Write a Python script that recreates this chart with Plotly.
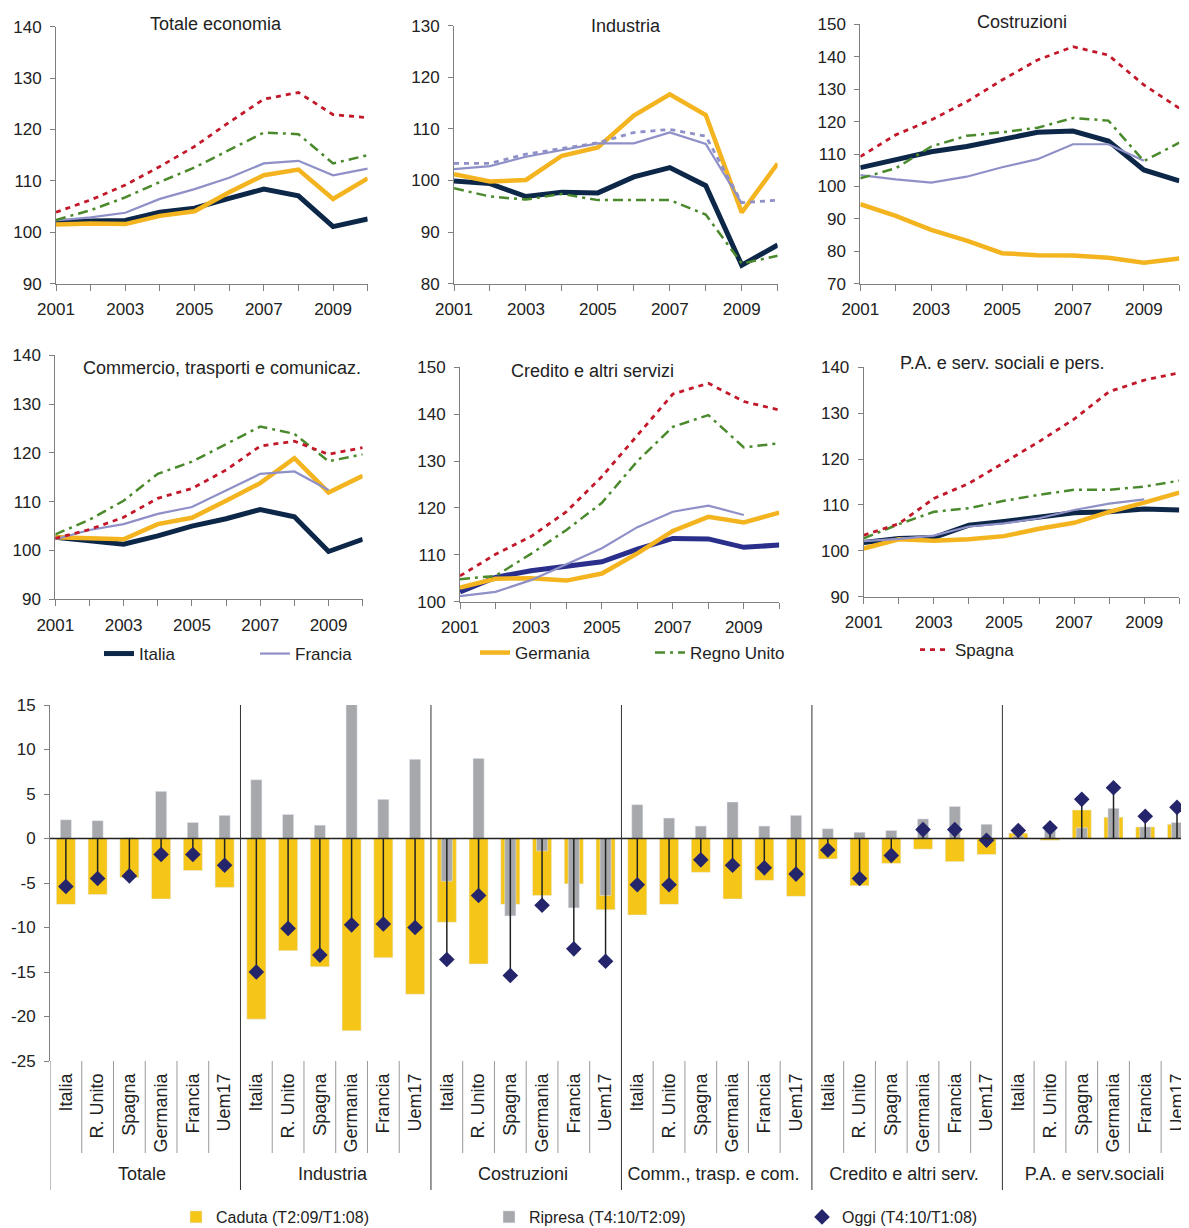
import plotly.graph_objects as go

PAGE_W, PAGE_H, OFF = 1189, 1228, 8   # page size and default body margin of the html page
FW, FH = PAGE_W - OFF, PAGE_H - OFF

years = [2001, 2002, 2003, 2004, 2005, 2006, 2007, 2008, 2009, 2010]
year_labels = ['2001', '', '2003', '', '2005', '', '2007', '', '2009', '']

# ---- Totale economia
tot_italia = [102.1, 102.3, 102.3, 103.9, 104.7, 106.6, 108.4, 107.1, 101.1, 102.6]
tot_francia = [102.3, 102.9, 103.8, 106.5, 108.4, 110.6, 113.4, 113.9, 111.1, 112.4]
tot_germania = [101.5, 101.7, 101.6, 103.2, 104.1, 107.8, 111.1, 112.2, 106.5, 110.5]
tot_regno = [102.4, 104.3, 106.8, 109.8, 112.6, 116.0, 119.4, 119.1, 113.4, 115.0]
tot_spagna = [103.9, 106.3, 109.2, 112.8, 116.7, 121.4, 125.9, 127.2, 122.9, 122.3]

# ---- Industria
ind_italia = [99.9, 99.4, 96.9, 97.7, 97.6, 100.7, 102.5, 99.0, 83.6, 87.5]
ind_francia = [102.2, 102.8, 104.6, 105.9, 107.2, 107.2, 109.3, 107.1, 95.6]
ind_germania = [101.2, 99.8, 100.1, 104.8, 106.4, 112.6, 116.7, 112.7, 93.8, 103.3]
ind_regno = [98.5, 96.9, 96.3, 97.4, 96.2, 96.2, 96.2, 93.4, 83.9, 85.4]
ind_spagna = [103.3, 103.3, 105.1, 106.2, 107.3, 109.3, 109.9, 108.6, 95.7, 96.2]

# ---- Costruzioni
cos_italia = [105.8, 108.1, 110.7, 112.3, 114.6, 116.7, 117.1, 114.0, 105.1, 101.7]
cos_francia = [103.5, 102.2, 101.2, 103.0, 105.9, 108.4, 113.0, 113.0, 107.9]
cos_germania = [94.5, 90.9, 86.6, 83.3, 79.4, 78.8, 78.7, 78.0, 76.5, 77.8]
cos_regno = [102.5, 105.6, 112.3, 115.6, 116.7, 118.1, 121.1, 120.3, 107.8, 113.5]
cos_spagna = [109.2, 115.9, 120.5, 126.1, 132.8, 139.0, 143.1, 140.5, 131.3, 124.1]

# ---- Commercio, trasporti e comunicaz.
com_italia = [102.7, 102.0, 101.3, 103.0, 105.0, 106.5, 108.4, 106.9, 99.8, 102.3]
com_francia = [102.3, 104.2, 105.4, 107.5, 108.9, 112.3, 115.7, 116.2, 112.4]
com_germania = [102.7, 102.5, 102.3, 105.4, 106.7, 110.2, 113.8, 118.9, 111.9, 115.3]
com_regno = [103.3, 106.3, 110.2, 115.7, 118.2, 121.8, 125.4, 123.9, 118.3, 119.7]
com_spagna = [102.5, 104.3, 106.8, 110.7, 112.7, 116.5, 121.4, 122.4, 119.7, 121.1]

# ---- Credito e altri servizi
cre_italia = [102.1, 105.2, 106.6, 107.6, 108.5, 111.2, 113.5, 113.4, 111.6, 112.1]
cre_francia = [101.2, 102.1, 104.6, 108.0, 111.4, 115.9, 119.2, 120.5, 118.5]
cre_germania = [103.0, 104.9, 105.0, 104.5, 106.0, 110.3, 115.1, 118.1, 116.9, 119.0]
cre_regno = [104.8, 105.5, 110.2, 115.3, 121.1, 130.0, 137.3, 139.8, 132.9, 133.8]
cre_spagna = [105.5, 110.1, 113.9, 119.2, 126.7, 135.6, 144.3, 146.6, 142.7, 140.9]

# ---- P.A. e serv. sociali e pers.
pa_italia = [101.8, 102.7, 102.9, 105.6, 106.4, 107.4, 108.3, 108.5, 109.1, 108.9]
pa_francia = [102.1, 102.6, 103.3, 105.3, 106.0, 107.1, 108.9, 110.3, 111.2]
pa_germania = [100.5, 102.5, 102.2, 102.5, 103.2, 104.8, 106.1, 108.5, 110.5, 112.7]
pa_regno = [102.7, 105.8, 108.5, 109.3, 110.9, 112.2, 113.3, 113.3, 114.0, 115.3]
pa_spagna = [103.4, 105.9, 111.4, 114.7, 119.2, 123.8, 128.7, 134.7, 137.2, 138.8]

# ---- Bar chart
groups = ['Totale', 'Industria', 'Costruzioni', 'Comm., trasp. e com.',
          'Credito e altri serv.', 'P.A. e serv.sociali']
countries = ['Italia', 'R. Unito', 'Spagna', 'Germania', 'Francia', 'Uem17']
caduta = [-7.4, -6.3, -4.4, -6.8, -3.6, -5.5,
          -20.3, -12.6, -14.4, -21.6, -13.4, -17.5,
          -9.4, -14.1, -7.4, -6.4, -5.1, -8.0,
          -8.6, -7.4, -3.8, -6.8, -4.7, -6.5,
          -2.3, -5.3, -2.8, -1.2, -2.6, -1.8,
          0.6, -0.2, 3.2, 2.4, 1.3, 1.6]
ripresa = [2.1, 2.0, 0.1, 5.3, 1.8, 2.6,
           6.6, 2.7, 1.5, 15.2, 4.4, 8.9,
           -4.8, 9.0, -8.7, -1.4, -7.8, -6.4,
           3.8, 2.3, 1.4, 4.1, 1.4, 2.6,
           1.1, 0.7, 0.9, 2.2, 3.6, 1.6,
           0.3, 1.3, 1.2, 3.4, 1.3, 1.8]
oggi = [-5.4, -4.5, -4.2, -1.8, -1.8, -3.0,
        -15.0, -10.1, -13.1, -9.7, -9.6, -10.0,
        -13.6, -6.4, -15.4, -7.5, -12.4, -13.8,
        -5.2, -5.2, -2.4, -3.0, -3.3, -4.0,
        -1.3, -4.5, -1.9, 1.0, 1.0, -0.2,
        0.9, 1.2, 4.4, 5.7, 2.5, 3.5]
bar_ticks = [15, 10, 5, 0, -5, -10, -15, -20, -25]
bar_tick_labels = ['15', '10', '5', '0', '-5', '-10', '-15', '-20', '-25']

styles = {
    'Italia': dict(color='#0c2748', width=5, dash='solid'),
    'Germania': dict(color='#f3b41f', width=4.5, dash='solid'),
    'Francia': dict(color='#8e90c7', width=2.2, dash='solid'),
    'Regno Unito': dict(color='#4b8a2c', width=2.5, dash='10px,5px,3px,5px'),
    'Spagna': dict(color='#c3182a', width=2.8, dash='5px,5px'),
}
legend_of = {'Italia': 'legend', 'Francia': 'legend', 'Germania': 'legend2',
             'Regno Unito': 'legend2', 'Spagna': 'legend3'}


def fx(p):
    return (p - OFF) / FW


def fy(p):
    return 1 - (p - OFF) / FH


panels = [
    dict(title='Totale economia', box=(56, 367.7, 26.7, 283.7), yr=[90, 140], tpos=(216, 24),
         data={'Italia': tot_italia, 'Germania': tot_germania, 'Francia': tot_francia,
               'Regno Unito': tot_regno, 'Spagna': tot_spagna}),
    dict(title='Industria', box=(454, 777.7, 25.7, 283.7), yr=[80, 130], tpos=(626, 26),
         data={'Italia': ind_italia, 'Germania': ind_germania, 'Francia': ind_francia,
               'Regno Unito': ind_regno, 'Spagna': ind_spagna}),
    dict(title='Costruzioni', box=(860.3, 1179.3, 24.3, 283.7), yr=[70, 150], tpos=(1022, 22),
         data={'Italia': cos_italia, 'Germania': cos_germania, 'Francia': cos_francia,
               'Regno Unito': cos_regno, 'Spagna': cos_spagna}),
    dict(title='Commercio, trasporti e comunicaz.', box=(55.3, 362.7, 355.3, 599.3), yr=[90, 140],
         tpos=(222, 368),
         data={'Italia': com_italia, 'Germania': com_germania, 'Francia': com_francia,
               'Regno Unito': com_regno, 'Spagna': com_spagna}),
    dict(title='Credito e altri servizi', box=(460, 779.3, 367.3, 601.7), yr=[100, 150],
         tpos=(592, 371),
         data={'Italia': cre_italia, 'Germania': cre_germania, 'Francia': cre_francia,
               'Regno Unito': cre_regno, 'Spagna': cre_spagna}),
    dict(title='P.A. e serv. sociali e pers.', box=(863.7, 1179.3, 367.3, 596.7), yr=[90, 140],
         tpos=(1002, 363),
         data={'Italia': pa_italia, 'Germania': pa_germania, 'Francia': pa_francia,
               'Regno Unito': pa_regno, 'Spagna': pa_spagna}),
]

fig = go.Figure()
layout = dict(width=FW, height=FH, margin=dict(l=0, r=0, t=0, b=0, pad=0, autoexpand=False),
              paper_bgcolor='white', plot_bgcolor='white',
              font=dict(family='Liberation Sans, Arial, sans-serif', size=17, color='#222'),
              barmode='overlay', annotations=[], shapes=[])

axis_col = '#7f7f7f'
for i, p in enumerate(panels, start=1):
    xa = 'x' if i == 1 else f'x{i}'
    ya = 'y' if i == 1 else f'y{i}'
    x0, x1, y0, y1 = p['box']
    for name, vals in p['data'].items():
        st = dict(styles[name])
        if i == 5 and name == 'Italia':
            st['color'] = '#2a2f8c'
        if i == 2 and name == 'Spagna':
            st['color'] = '#8e90c7'
        fig.add_trace(go.Scatter(
            x=years[:len(vals)], y=vals, mode='lines', name=name,
            line=st, xaxis=xa, yaxis=ya,
            showlegend=(i == 1), legend=legend_of[name]))
    layout['xaxis' if i == 1 else f'xaxis{i}'] = dict(
        domain=[fx(x0), fx(x1)], anchor=ya, range=[2001, 2010],
        tickvals=years, ticktext=year_labels, ticks='outside', ticklen=6,
        tickcolor=axis_col, showline=True, linecolor=axis_col, linewidth=1,
        showgrid=False, zeroline=False, tickfont=dict(size=17), automargin=False,
        ticklabelstandoff=4)
    layout['yaxis' if i == 1 else f'yaxis{i}'] = dict(
        domain=[fy(y1), fy(y0)], anchor=xa, range=p['yr'], dtick=10,
        ticks='outside', ticklen=5, tickcolor=axis_col, showline=True,
        linecolor=axis_col, linewidth=1, showgrid=False, zeroline=False,
        tickfont=dict(size=17), automargin=False, ticklabelstandoff=5)
    layout['annotations'].append(dict(
        text=p['title'], xref='paper', yref='paper', x=fx(p['tpos'][0]), y=fy(p['tpos'][1]),
        xanchor='center', yanchor='middle', showarrow=False, font=dict(size=18, color='#222')))

# ---- bar chart
xcat = [[g for g in groups for _ in countries], [c for _ in groups for c in countries]]
fig.add_trace(go.Bar(x=xcat, y=caduta, name='Caduta (T2:09/T1:08)', marker_color='#f5c518',
                     width=0.6, xaxis='x7', yaxis='y7', legend='legend4'))
fig.add_trace(go.Bar(x=xcat, y=ripresa, name='Ripresa (T4:10/T2:09)', marker_color='#a7a8ab',
                     width=0.35, xaxis='x7', yaxis='y7', legend='legend4'))
fig.add_trace(go.Scatter(
    x=xcat, y=oggi, mode='markers', name='Oggi (T4:10/T1:08)',
    marker=dict(symbol='diamond', size=12, color='#25256b'),
    error_y=dict(type='data', symmetric=False,
                 array=[max(-v, 0) for v in oggi], arrayminus=[max(v, 0) for v in oggi],
                 color='#222', thickness=1.5, width=0),
    xaxis='x7', yaxis='y7', legend='legend4'))

ncat = len(groups) * len(countries)
cw = (1177 - 50) / (ncat - 0.5)   # px per category; last category centred at x=1177
layout['xaxis7'] = dict(type='multicategory', domain=[fx(50), 1], anchor='y7',
                        range=[-0.5, -0.5 + (PAGE_W - 50) / cw], showline=False, ticks='',
                        tickangle=-90, showdividers=False, showgrid=False,
                        tickfont=dict(size=18, color='#222'), automargin=False,
                        ticklabelstandoff=8)
layout['yaxis7'] = dict(domain=[fy(1061), fy(705)], anchor='x7', range=[-25, 15],
                        tickvals=bar_ticks, ticktext=bar_tick_labels,
                        ticks='outside', ticklen=5, tickcolor=axis_col, showline=True,
                        linecolor=axis_col, showgrid=False, zeroline=False,
                        tickfont=dict(size=17), automargin=False, ticklabelstandoff=5)

# zero line over bars
layout['shapes'].append(dict(type='line', xref='paper', yref='y7', x0=fx(50), x1=1, y0=0, y1=0,
                             line=dict(color='#222', width=1.5), layer='above'))
# separators
layout['shapes'].append(dict(type='line', xref='x7', yref='paper', x0=-0.5, x1=-0.5,
                             y0=fy(1190), y1=fy(1061), line=dict(color=axis_col, width=1)))
for k in range(1, ncat):
    b = k - 0.5
    if k % len(countries) == 0:
        layout['shapes'].append(dict(type='line', xref='x7', yref='paper', x0=b, x1=b,
                                     y0=fy(1190), y1=fy(705), line=dict(color='#333', width=1)))
    else:
        layout['shapes'].append(dict(type='line', xref='x7', yref='paper', x0=b, x1=b,
                                     y0=fy(1153), y1=fy(1061), line=dict(color='#999', width=1)))

leg_common = dict(orientation='h', yanchor='middle', xanchor='left', bgcolor='rgba(0,0,0,0)',
                  font=dict(size=17, color='#222'), entrywidthmode='pixels', tracegroupgap=0)
layout['legend'] = dict(leg_common, x=fx(99), y=fy(654), entrywidth=111)
layout['legend2'] = dict(leg_common, x=fx(475), y=fy(653), entrywidth=130)
layout['legend3'] = dict(leg_common, x=fx(915), y=fy(650), entrywidth=100)
layout['legend4'] = dict(leg_common, x=fx(176), y=fy(1217), entrywidth=268,
                         font=dict(size=16, color='#222'))

fig.update_layout(**layout)
fig.write_html('out.html')
